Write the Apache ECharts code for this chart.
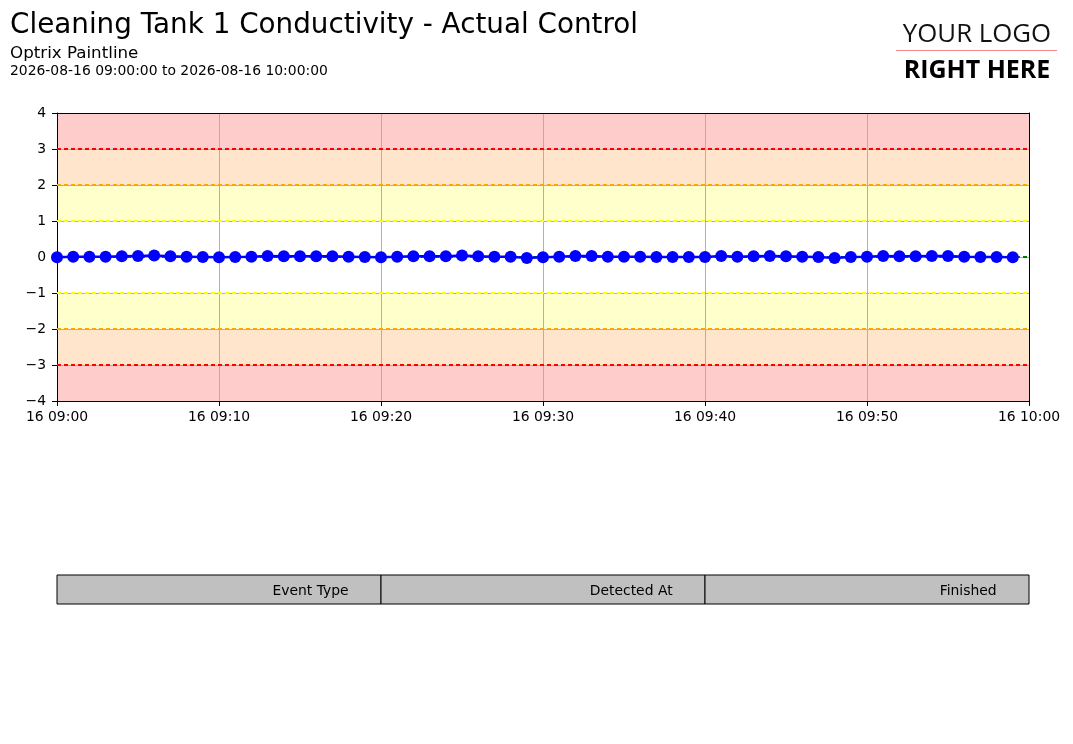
<!DOCTYPE html>
<html>
<head>
<meta charset="utf-8">
<script src="https://cdn.jsdelivr.net/npm/echarts@6/dist/echarts.min.js"></script>
<style>
html,body{margin:0;padding:0;background:#fff;}
#chart{width:1073px;height:744px;}
</style>
</head>
<body>
<div id="chart"></div>
<script>
// ---- Data ----
var chartTitle = 'Cleaning Tank 1 Conductivity - Actual Control';
var chartSubtitle = 'Optrix Paintline';
var chartRange = '2026-08-16 09:00:00 to 2026-08-16 10:00:00';
var dayPrefix = '2026-08-16';
var axisStart = '09:00';
var axisEnd = '10:00';
var sampleTimes = [
  '09:00','09:01','09:02','09:03','09:04','09:05','09:06','09:07','09:08','09:09',
  '09:10','09:11','09:12','09:13','09:14','09:15','09:16','09:17','09:18','09:19',
  '09:20','09:21','09:22','09:23','09:24','09:25','09:26','09:27','09:28','09:29',
  '09:30','09:31','09:32','09:33','09:34','09:35','09:36','09:37','09:38','09:39',
  '09:40','09:41','09:42','09:43','09:44','09:45','09:46','09:47','09:48','09:49',
  '09:50','09:51','09:52','09:53','09:54','09:55','09:56','09:57','09:58','09:59'
];
var actualValues = [
  -0.01, 0.01, 0.01, 0.01, 0.02, 0.03, 0.04, 0.02, 0.01, 0.00,
  -0.01, 0.00, 0.01, 0.03, 0.02, 0.02, 0.02, 0.02, 0.01, 0.00,
  -0.01, 0.01, 0.02, 0.02, 0.02, 0.04, 0.02, 0.01, 0.01,-0.03,
  -0.01, 0.01, 0.03, 0.03, 0.01, 0.01, 0.01, 0.00, 0.00, 0.00,
   0.00, 0.03, 0.01, 0.02, 0.03, 0.02, 0.01, 0.00,-0.03, 0.00,
   0.01, 0.03, 0.02, 0.02, 0.03, 0.03, 0.01, 0.00, 0.00,-0.01
];
var targetValue = 0;
var warnLimits = [1, -1];
var alarmLimits = [2, -2];
var tripLimits = [3, -3];
var yRange = [-4, 4];
var tableHeaders = ['Event Type', 'Detected At', 'Finished'];
var logoLines = ['YOUR LOGO', 'RIGHT HERE'];

// ---- Helpers ----
function toTs(hhmm) {
  var d = dayPrefix.split('-').map(Number);
  var t = hhmm.split(':').map(Number);
  return Date.UTC(d[0], d[1] - 1, d[2], t[0], t[1], 0);
}
function pad(n){ return (n < 10 ? '0' : '') + n; }
function fmtTime(v) {
  var d = new Date(v);
  return pad(d.getUTCDate()) + ' ' + pad(d.getUTCHours()) + ':' + pad(d.getUTCMinutes());
}
var FONT = 'DejaVu Sans';
var seriesData = sampleTimes.map(function (t, i) { return [toTs(t), actualValues[i]]; });

var RED_BAND = '#ffcccc', ORANGE_BAND = '#ffe5cc', YELLOW_BAND = '#ffffcc';

var chart = echarts.init(document.getElementById('chart'), null, {renderer: 'canvas'});

// table geometry (layout only)
var tblLeft = 57, tblRight = 1029, tblTop = 575, tblH = 29;
var cellW = (tblRight - tblLeft) / tableHeaders.length;
var tableGraphics = [];
tableHeaders.forEach(function (h, i) {
  tableGraphics.push({
    type: 'rect', z: 10,
    shape: {x: tblLeft + i * cellW, y: tblTop, width: cellW, height: tblH},
    style: {fill: '#c0c0c0', stroke: '#000', lineWidth: 1}
  });
  tableGraphics.push({
    type: 'text', z: 11,
    x: tblLeft + (i + 1) * cellW - cellW * 0.1, y: tblTop + tblH / 2 + 1.5,
    style: {text: h, fontFamily: FONT, fontSize: 13.9, fill: '#000', align: 'right', verticalAlign: 'middle'}
  });
});

var AXIS_Z = 2;
var DASH = [4, 3];
var option = {
  backgroundColor: '#fff',
  animation: false,
  grid: {left: 57, right: 44, top: 113, bottom: 343, containLabel: false},
  xAxis: [{
    type: 'value', z: AXIS_Z,
    min: toTs(axisStart), max: toTs(axisEnd), interval: 600000,
    axisLine: {show: true, onZero: false, lineStyle: {color: '#000', width: 1}},
    axisTick: {show: true, length: 5, lineStyle: {color: '#000'}},
    axisLabel: {color: '#000', fontFamily: FONT, fontSize: 13.9, margin: 9, formatter: fmtTime},
    splitLine: {show: true, lineStyle: {color: '#b0b0b0', width: 1}}
  }, {
    type: 'value', position: 'top', z: AXIS_Z,
    min: toTs(axisStart), max: toTs(axisEnd),
    axisLine: {show: true, onZero: false, lineStyle: {color: '#000', width: 1}},
    axisTick: {show: false}, axisLabel: {show: false}, splitLine: {show: false}
  }],
  yAxis: [{
    type: 'value', min: yRange[0], max: yRange[1], interval: 1, z: AXIS_Z,
    axisLine: {show: true, onZero: false, lineStyle: {color: '#000', width: 1}},
    axisTick: {show: true, length: 5, lineStyle: {color: '#000'}},
    axisLabel: {color: '#000', fontFamily: FONT, fontSize: 13.9, margin: 11, padding: [2, 0, 0, 0],
      formatter: function (v) { return String(v).replace('-', '\u2212'); }},
    splitLine: {show: true, lineStyle: {color: '#b0b0b0', width: 1}}
  }, {
    type: 'value', position: 'right', min: yRange[0], max: yRange[1], z: AXIS_Z,
    axisLine: {show: true, onZero: false, lineStyle: {color: '#000', width: 1}},
    axisTick: {show: false}, axisLabel: {show: false}, splitLine: {show: false}
  }],
  series: [{
    name: 'bands', type: 'line', data: [], z: 1, silent: true,
    markArea: {
      silent: true, z: 1,
      data: [
        [{yAxis: tripLimits[0], itemStyle: {color: RED_BAND}}, {yAxis: yRange[1]}],
        [{yAxis: alarmLimits[0], itemStyle: {color: ORANGE_BAND}}, {yAxis: tripLimits[0]}],
        [{yAxis: warnLimits[0], itemStyle: {color: YELLOW_BAND}}, {yAxis: alarmLimits[0]}],
        [{yAxis: alarmLimits[1], itemStyle: {color: YELLOW_BAND}}, {yAxis: warnLimits[1]}],
        [{yAxis: tripLimits[1], itemStyle: {color: ORANGE_BAND}}, {yAxis: alarmLimits[1]}],
        [{yAxis: yRange[0], itemStyle: {color: RED_BAND}}, {yAxis: tripLimits[1]}]
      ]
    }
  }, {
    name: 'limits', type: 'line', data: [], z: 3, silent: true,
    markLine: {
      silent: true, symbol: 'none', label: {show: false}, z: 3,
      data: [
        {yAxis: tripLimits[0], lineStyle: {color: '#ff0000', type: DASH, width: 2}},
        {yAxis: tripLimits[1], lineStyle: {color: '#ff0000', type: DASH, width: 2}},
        {yAxis: alarmLimits[0], lineStyle: {color: '#ffa500', type: DASH, width: 2}},
        {yAxis: alarmLimits[1], lineStyle: {color: '#ffa500', type: DASH, width: 2}},
        {yAxis: warnLimits[0], lineStyle: {color: '#ffff00', type: DASH, width: 2}},
        {yAxis: warnLimits[1], lineStyle: {color: '#ffff00', type: DASH, width: 2}},
        {yAxis: targetValue, lineStyle: {color: '#008000', type: DASH, width: 2}}
      ]
    }
  }, {
    name: 'Actual', type: 'line', data: seriesData, z: 4,
    symbol: 'circle', symbolSize: 12, showSymbol: true,
    lineStyle: {color: '#0000ff', width: 2.5},
    itemStyle: {color: '#0000ff', borderWidth: 0}
  }],
  graphic: [
    {type: 'text', x: 10, y: 26, style: {text: chartTitle, fontFamily: FONT, fontSize: 27.8, fill: '#000', verticalAlign: 'middle'}},
    {type: 'text', x: 10, y: 54, style: {text: chartSubtitle, fontFamily: FONT, fontSize: 16.7, fill: '#000', verticalAlign: 'middle'}},
    {type: 'text', x: 10, y: 71.5, style: {text: chartRange, fontFamily: FONT, fontSize: 13.9, fill: '#000', verticalAlign: 'middle'}},
    {type: 'text', x: 977, y: 35, style: {text: logoLines[0], fontFamily: 'Open Sans', fontSize: 25.8, fill: '#111', align: 'center', verticalAlign: 'middle'}},
    {type: 'line', shape: {x1: 896, y1: 50.5, x2: 1057, y2: 50.5}, style: {stroke: '#f08a8a', lineWidth: 1}},
    {type: 'text', x: 977, y: 71, style: {text: logoLines[1], fontFamily: 'Open Sans', fontWeight: 'bold', fontSize: 25, fill: '#000', align: 'center', verticalAlign: 'middle'}}
  ].concat(tableGraphics)
};
chart.setOption(option);
</script>
</body>
</html>
